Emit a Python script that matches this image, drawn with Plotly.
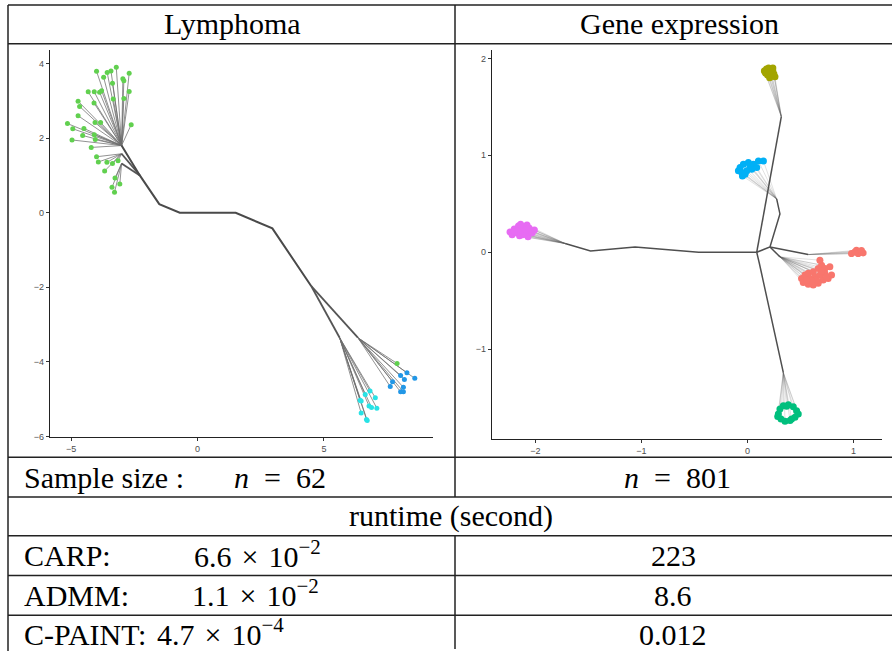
import plotly.graph_objects as go

W, H = 892, 655


def px(x):
    return x / W


def py(y):
    return 1 - y / H


# ---------------- Lymphoma (n = 62) ----------------
LYM_GREEN = "#61D04F"
LYM_BLUE = "#2297E6"
LYM_CYAN = "#28E2E5"

# clustering path backbone
lym_path_x = [-3.00, -2.28, -1.51, -0.70, 1.51, 2.96, 4.50]
lym_path_y = [1.80, 1.00, 0.23, 0.00, 0.00, -0.42, -1.97]

# secondary branches: (from node) -> (to node)
lym_branch_x = [[-3.00, -2.28], [-3.00, -2.28], [4.50, 6.34], [4.50, 5.62]]
lym_branch_y = [[1.58, 1.00], [1.32, 1.00], [-1.97, -3.35], [-1.97, -3.35]]

# observation groups, each attached to a merge node
lym_groups = [
    dict(color=LYM_GREEN, node=(-3.00, 1.80),
         x=[-3.99, -3.71, -3.57, -3.42, -3.21, -2.95, -2.91, -2.70, -3.36, -4.32,
            -4.08, -3.87, -3.79, -3.33, -2.91, -2.70, -4.72, -4.66, -4.09, -4.72,
            -4.05, -3.83, -2.62, -5.14, -4.93, -4.49, -4.54, -4.08, -4.04, -4.96,
            -4.20],
         y=[3.79, 3.63, 3.76, 3.80, 3.90, 3.59, 3.54, 3.74, 3.47, 3.24,
            3.24, 3.23, 3.27, 3.05, 3.06, 3.25, 2.99, 2.85, 2.94, 2.60,
            2.42, 2.42, 2.36, 2.39, 2.25, 2.26, 2.07, 2.09, 1.96, 1.95,
            1.75]),
    dict(color=LYM_GREEN, node=(-3.00, 1.58),
         x=[-3.99, -3.92, -3.58, -3.36, -3.14, -3.67],
         y=[1.50, 1.36, 1.35, 1.32, 1.39, 1.12]),
    dict(color=LYM_GREEN, node=(-3.00, 1.32),
         x=[-3.26, -3.07, -3.38, -3.28],
         y=[0.93, 0.77, 0.68, 0.55]),
    dict(color=LYM_GREEN, node=(6.34, -3.35),
         x=[7.89], y=[-4.04]),
    dict(color=LYM_BLUE, node=(6.34, -3.35),
         x=[8.28, 8.03, 8.59, 8.18, 7.71, 7.62, 8.14, 8.03, 8.14],
         y=[-4.29, -4.36, -4.44, -4.47, -4.53, -4.66, -4.68, -4.80, -4.80]),
    dict(color=LYM_CYAN, node=(5.62, -3.35),
         x=[6.82, 6.63, 7.03, 6.43, 6.47, 6.78, 6.88, 7.09, 6.47, 6.68, 6.71],
         y=[-4.78, -4.87, -4.96, -5.03, -5.05, -5.18, -5.22, -5.24, -5.37, -5.54, -5.57]),
]

lym_xticks = [-5, 0, 5]
lym_yticks = [-6, -4, -2, 0, 2, 4]

# ---------------- Gene expression (n = 801) ----------------
GE_RED = "#F8766D"
GE_OLIVE = "#A3A500"
GE_GREEN = "#00BF7D"
GE_BLUE = "#00B0F6"
GE_PINK = "#E76BF3"

ge_paths = [
    # west arm
    ([-1.72, -1.48, -1.06, -0.46, 0.088], [0.09, 0.014, 0.055, 0.0, 0.0]),
    # north arm
    ([0.088, 0.32], [0.0, 1.40]),
    # south arm
    ([0.088, 0.113, 0.339], [0.0, -0.116, -1.242]),
    # east arm and its sub-branches
    ([0.088, 0.213, 0.307, 0.276], [0.0, 0.055, 0.396, 0.55]),
    ([0.213, 0.308], [0.055, -0.048]),
    ([0.213, 0.574], [0.055, -0.024]),
]

ge_groups = [
    dict(color=GE_PINK, node=(-1.72, 0.09),
         x=[-2.24, -2.22, -2.20, -2.18, -2.16, -2.15, -2.13, -2.11, -2.10, -2.08,
            -2.07, -2.05, -2.03, -2.01, -2.17, -2.12, -2.09, -2.20, -2.06, -2.14],
         y=[0.21, 0.18, 0.24, 0.20, 0.27, 0.17, 0.22, 0.25, 0.19, 0.28,
            0.16, 0.22, 0.20, 0.23, 0.22, 0.18, 0.23, 0.21, 0.25, 0.29]),
    dict(color=GE_OLIVE, node=(0.32, 1.40),
         x=[0.16, 0.18, 0.20, 0.22, 0.24, 0.25, 0.23, 0.21, 0.19, 0.17, 0.21, 0.24, 0.26],
         y=[1.87, 1.89, 1.90, 1.88, 1.87, 1.84, 1.82, 1.80, 1.83, 1.85, 1.85, 1.90, 1.81]),
    dict(color=GE_BLUE, node=(0.276, 0.55),
         x=[-0.069, -0.038, 0.009, 0.056, 0.104, 0.151, -0.053, -0.006, 0.041, 0.088,
            -0.022, -0.047, 0.025, -0.085],
         y=[0.874, 0.908, 0.925, 0.908, 0.942, 0.942, 0.823, 0.840, 0.857, 0.874,
            0.805, 0.788, 0.890, 0.840]),
    dict(color=GE_RED, node=(0.308, -0.048),
         x=[0.511, 0.543, 0.574, 0.621, 0.668, 0.700, 0.684, 0.731, 0.778, 0.794,
            0.762, 0.715, 0.668, 0.621, 0.574, 0.527, 0.590, 0.637, 0.684, 0.731,
            0.653, 0.700, 0.606, 0.559, 0.747],
         y=[-0.270, -0.235, -0.218, -0.201, -0.167, -0.133, -0.082, -0.167, -0.150, -0.235,
            -0.270, -0.287, -0.321, -0.338, -0.331, -0.311, -0.270, -0.253, -0.235, -0.218,
            -0.287, -0.195, -0.297, -0.287, -0.253]),
    dict(color=GE_RED, node=(0.574, -0.024),
         x=[0.982, 1.029, 1.061, 1.092, 1.045, 1.013, 1.076],
         y=[-0.014, 0.020, 0.003, -0.007, -0.014, 0.003, 0.017]),
    dict(color=GE_GREEN, node=(0.339, -1.242),
         x=[0.292, 0.307, 0.339, 0.386, 0.433, 0.464, 0.480, 0.449, 0.402, 0.355,
            0.317, 0.286, 0.417, 0.370],
         y=[-1.669, -1.618, -1.584, -1.573, -1.594, -1.635, -1.669, -1.703, -1.737, -1.744,
            -1.720, -1.696, -1.720, -1.590]),
]

ge_xticks = [-2, -1, 0, 1]
ge_yticks = [-1, 0, 1, 2]

# ---------------- table text ----------------
EN = "\u2002"
SP = "\u2004"
header_left = "Lymphoma"
header_right = "Gene expression"
sample_label = "Sample size :"
sample_left = f"<i>n</i>{EN}={EN}62"
sample_right = f"<i>n</i>{EN}={EN}801"
runtime_title = "runtime (second)"
methods = ["CARP:", "ADMM:", "C-PAINT:"]
runtime_left = [f"6.6{SP}×{SP}10<sup>−2</sup>", f"1.1{SP}×{SP}10<sup>−2</sup>",
                f"4.7{SP}×{SP}10<sup>−4</sup>"]
runtime_right = ["223", "8.6", "0.012"]

fig = go.Figure()


def edge_trace(groups, xa, ya, color, width):
    ex, ey = [], []
    for g in groups:
        nx, ny = g["node"]
        for x, y in zip(g["x"], g["y"]):
            ex += [x, nx, None]
            ey += [y, ny, None]
    return go.Scatter(x=ex, y=ey, mode="lines", xaxis=xa, yaxis=ya,
                      line=dict(color=color, width=width), hoverinfo="skip",
                      showlegend=False)


# Lymphoma panel
fig.add_trace(edge_trace(lym_groups, "x", "y", "rgba(110,110,110,0.75)", 1))
for bx, by in zip(lym_branch_x, lym_branch_y):
    fig.add_trace(go.Scatter(x=bx, y=by, mode="lines", xaxis="x", yaxis="y",
                             line=dict(color="#555555", width=1.8), showlegend=False))
fig.add_trace(go.Scatter(x=lym_path_x, y=lym_path_y, mode="lines", xaxis="x", yaxis="y",
                         line=dict(color="#4a4a4a", width=2), showlegend=False))
for g in lym_groups:
    fig.add_trace(go.Scatter(x=g["x"], y=g["y"], mode="markers", xaxis="x", yaxis="y",
                             marker=dict(color=g["color"], size=5), showlegend=False))

# Gene expression panel
fig.add_trace(edge_trace(ge_groups, "x2", "y2", "rgba(90,90,90,0.18)", 1))
for gx, gy in ge_paths:
    fig.add_trace(go.Scatter(x=gx, y=gy, mode="lines", xaxis="x2", yaxis="y2",
                             line=dict(color="#4f4f4f", width=1.5), showlegend=False))
for g in ge_groups:
    fig.add_trace(go.Scatter(x=g["x"], y=g["y"], mode="markers", xaxis="x2", yaxis="y2",
                             marker=dict(color=g["color"], size=7), showlegend=False))

axis_common = dict(showgrid=False, zeroline=False, showline=True, linecolor="#222222",
                   linewidth=1.2, ticks="outside", ticklen=3, tickcolor="#333333",
                   tickwidth=1, tickfont=dict(family="Liberation Sans", size=9, color="#4d4d4d"),
                   fixedrange=True)

fig.update_layout(
    width=W, height=H, margin=dict(l=0, r=0, t=0, b=0),
    paper_bgcolor="white", plot_bgcolor="white", showlegend=False,
    xaxis=dict(domain=[px(50), px(433)], range=[-5.83, 9.31], tickvals=lym_xticks,
               anchor="y", **axis_common),
    yaxis=dict(domain=[py(440), py(50)], range=[-6.02, 4.37], tickvals=lym_yticks,
               anchor="x", **axis_common),
    xaxis2=dict(domain=[px(492), px(882)], range=[-2.41, 1.27], tickvals=ge_xticks,
                anchor="y2", **axis_common),
    yaxis2=dict(domain=[py(442), py(50)], range=[-1.93, 2.09], tickvals=ge_yticks,
                anchor="x2", **axis_common),
)

# table rules
line_style = dict(color="#222222", width=1.5)
shapes = []
for yy in [5, 44, 460, 500, 539, 579, 619]:
    shapes.append(dict(type="line", xref="paper", yref="paper", x0=px(8), x1=1,
                       y0=py(yy), y1=py(yy), line=line_style))
shapes.append(dict(type="line", xref="paper", yref="paper", x0=px(8), x1=px(8),
                   y0=py(5), y1=0, line=line_style))
shapes.append(dict(type="line", xref="paper", yref="paper", x0=px(455), x1=px(455),
                   y0=py(5), y1=py(500), line=line_style))
shapes.append(dict(type="line", xref="paper", yref="paper", x0=px(455), x1=px(455),
                   y0=py(539), y1=py(653), line=line_style))
fig.update_layout(shapes=shapes)

SERIF = "Liberation Serif"
FS = 30


def note(text, x, y, anchor="center"):
    fig.add_annotation(text=text, x=px(x), y=py(y), xref="paper", yref="paper",
                       xanchor=anchor, yanchor="middle", showarrow=False,
                       font=dict(family=SERIF, size=FS, color="black"))


note(header_left, 233, 24)
note(header_right, 679, 24)
note(sample_label, 22, 480, "left")
note(sample_left, 232, 480, "left")
note(sample_right, 677, 480)
note(runtime_title, 451, 519)
row_y = [559, 599, 638]
left_x = [192, 190, 155]
for m, lv, rv, yy, lx in zip(methods, runtime_left, runtime_right, row_y, left_x):
    note(m, 22, yy, "left")
    note(lv, lx, yy - 2, "left")
    note(rv, 673, yy)

fig.write_html("out.html")
